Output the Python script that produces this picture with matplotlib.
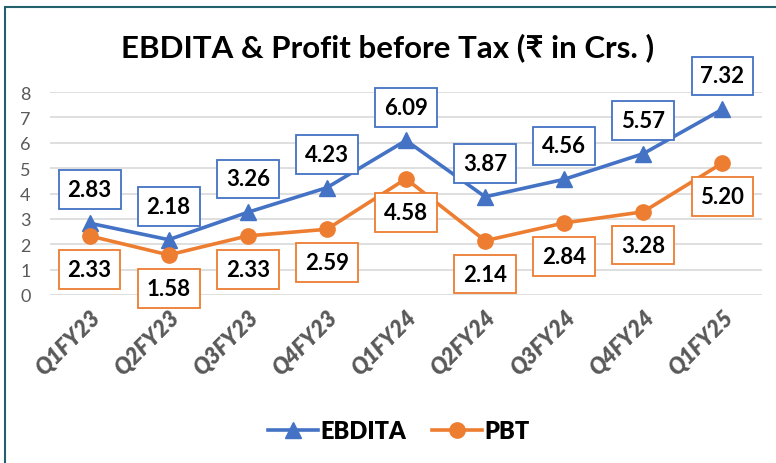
"""EBDITA & Profit before Tax line chart."""

import matplotlib
matplotlib.use("Agg")
import matplotlib.pyplot as plt
from matplotlib.font_manager import FontProperties
from matplotlib.patches import Rectangle

quarters = ["Q1FY23", "Q2FY23", "Q3FY23", "Q4FY23", "Q1FY24",
            "Q2FY24", "Q3FY24", "Q4FY24", "Q1FY25"]
ebdita = [2.83, 2.18, 3.26, 4.23, 6.09, 3.87, 4.56, 5.57, 7.32]
pbt = [2.33, 1.58, 2.33, 2.59, 4.58, 2.14, 2.84, 3.28, 5.20]
y_ticks = [0, 1, 2, 3, 4, 5, 6, 7, 8]

BLUE = "#4472C4"
ORANGE = "#ED7D31"
GREY = "#595959"

plt.rcParams["font.family"] = ["Lato", "DejaVu Sans"]

fig = plt.figure(figsize=(7.76, 4.64), dpi=100)
ax = fig.add_axes([50 / 776, 168 / 464, 712 / 776, 203 / 464])

x = list(range(len(quarters)))
ax.plot(x, ebdita, color=BLUE, lw=2.6, marker="^", ms=11, label="EBDITA", zorder=3)
ax.plot(x, pbt, color=ORANGE, lw=2.6, marker="o", ms=11, label="PBT", zorder=3)

# data labels: EBDITA above, PBT below
for xi, v in zip(x, ebdita):
    ax.annotate(f"{v:.2f}", (xi, v), xytext=(0, 24), textcoords="offset points",
                ha="center", va="center", fontsize=16, fontweight="bold",
                bbox=dict(boxstyle="square,pad=0.4", fc="white", ec=BLUE, lw=1.3),
                zorder=5)
for xi, v in zip(x, pbt):
    ax.annotate(f"{v:.2f}", (xi, v), xytext=(0, -24), textcoords="offset points",
                ha="center", va="center", fontsize=16, fontweight="bold",
                bbox=dict(boxstyle="square,pad=0.4", fc="white", ec=ORANGE, lw=1.3),
                zorder=5)

ax.set_xlim(-0.5, len(quarters) - 0.5)
ax.set_ylim(0, 8)
ax.set_yticks(y_ticks)
ax.set_xticks(x)
ax.set_xticklabels(quarters, rotation=45, ha="right", rotation_mode="anchor",
                   fontsize=16, fontweight="heavy", fontstyle="italic", color=GREY)
ax.tick_params(axis="y", labelsize=13, labelcolor=GREY, length=0, pad=14)
ax.tick_params(axis="x", length=0, pad=8)
ax.grid(axis="y", color="#D9D9D9", lw=1.2)
ax.set_axisbelow(True)
for s in ax.spines.values():
    s.set_visible(False)

fig.text(0.5, 0.897, "EBDITA & Profit before Tax (₹ in Crs. )", ha="center", va="center",
         fontsize=22.5, fontweight="bold")

leg_font = FontProperties(family=["Lato", "DejaVu Sans"], weight="heavy", size=17)
leg = fig.legend(loc="center", bbox_to_anchor=(0.514, (464 - 432) / 464), ncol=2,
                 frameon=False, prop=leg_font, handlelength=2.1, columnspacing=1.1,
                 handletextpad=0.1)

# chart frame (cropped at right/bottom)
fig.patches.append(Rectangle((5 / 776, -0.1), 1.2, 0.1 + (464 - 8) / 464,
                             transform=fig.transFigure, fill=False,
                             ec="#22606E", lw=1.5))

fig.savefig("out.png", dpi=100)
